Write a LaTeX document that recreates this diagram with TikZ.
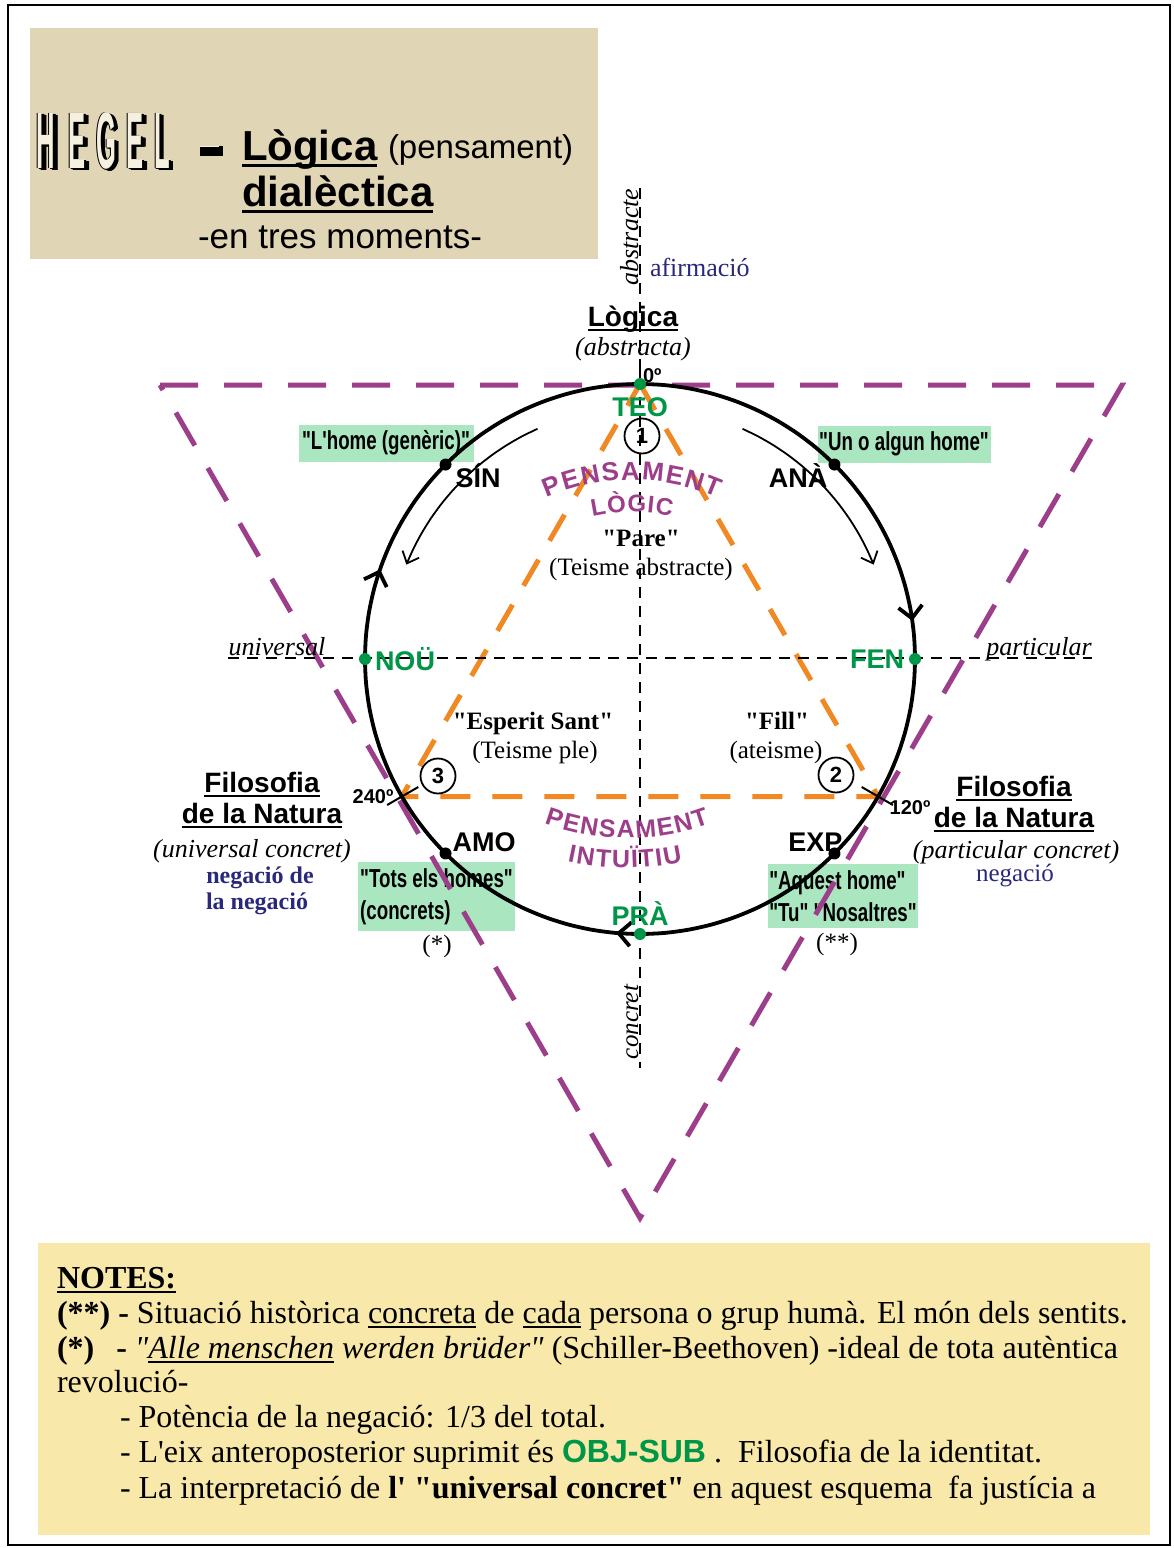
\documentclass[tikz,border=0pt]{standalone}
\usepackage{fontspec}
\setmainfont{Liberation Serif}
\setsansfont{Liberation Sans}
\newfontfamily\txtserif{Liberation Serif}
\newfontfamily\etiqfont[FakeStretch=0.72]{Liberation Sans}
\usepackage{tikz}
\usetikzlibrary{calc,positioning}
\usetikzlibrary{arrows.meta}
\usetikzlibrary{decorations.markings}

\definecolor{titolfons}{RGB}{224,213,180}
\definecolor{titolfront}{RGB}{246,240,224}
\definecolor{notesfons}{RGB}{248,232,170}
\definecolor{verdclar}{RGB}{170,230,192}
\definecolor{verd}{RGB}{0,150,72}
\definecolor{malva}{RGB}{156,62,138}
\definecolor{taronja}{RGB}{240,136,36}
\definecolor{blaufosc}{RGB}{42,40,122}

\newcommand{\fsz}[1]{\fontsize{#1}{#1}\selectfont}
\newcommand{\subr}[1]{\setbox0\hbox{#1}\rlap{\vrule width\wd0 height -.1em depth .17em}\box0\relax}
\newcommand{\estr}[1]{\scalebox{0.32}[1]{#1}}
% lletra amb ombra en relleu
\newcommand{\lletra}[1]{%
  \rlap{\kern-.8pt\raise.35pt\hbox{\estr{#1}}}%
  \rlap{\kern.8pt\lower.35pt\hbox{\estr{#1}}}%
  \rlap{\kern1.6pt\lower.7pt\hbox{\estr{#1}}}%
  \rlap{\kern2.4pt\lower1.05pt\hbox{\estr{#1}}}%
  \rlap{\kern3.2pt\lower1.4pt\hbox{\estr{#1}}}%
  \rlap{\kern4pt\lower1.75pt\hbox{\estr{#1}}}%
  \rlap{\kern4.8pt\lower2.1pt\hbox{\estr{#1}}}%
  \textcolor{titolfront}{\estr{#1}}}

\begin{document}
\begin{tikzpicture}[x=1pt,y=-1pt,
  every node/.style={inner sep=0pt,outer sep=0pt},
  eix/.style={line width=1.6pt,dash pattern=on 11pt off 8pt},
  trimalva/.style={malva,line width=5pt,dash pattern=on 38pt off 26pt},
  tritaronja/.style={taronja,line width=5pt,dash pattern=on 30pt off 22pt},
  cercle/.style={line width=3.8pt},
  fletxa/.style={line width=1.8pt,-{Straight Barb[length=10pt,width=18pt]}},
  punt/.style={circle,fill=black,minimum size=12pt},
  puntverd/.style={circle,fill=verd,minimum size=12pt},
  moment/.style={font=\sffamily\bfseries\fsz{27}},
  momentverd/.style={font=\sffamily\bfseries\fsz{27},text=verd},
  caixa/.style={fill=verdclar,font=\etiqfont\bfseries\fontsize{26}{32}\selectfont},
  num/.style={circle,draw,line width=1.8pt,minimum size=35pt,font=\sffamily\bfseries\fsz{22}},
  graus/.style={font=\sffamily\bfseries\fsz{20}},
  filo/.style={font=\sffamily\bfseries\fsz{28},anchor=base},
  cursiva/.style={font=\itshape\fsz{26},anchor=base},
  nota/.style={font=\txtserif\fsz{32},anchor=base west},
  persona/.style={font=\txtserif\bfseries\fsz{25},anchor=base},
  teisme/.style={font=\fsz{25},anchor=base},
  pens/.style={font=\sffamily\bfseries\fsz{#1},text=malva,anchor=base}]

\fill[white] (0,0) rectangle (1174,1548);
\useasboundingbox (0,0) rectangle (1174,1548);
\draw[line width=1.6pt] (8,5) rectangle (1170,1545);

% capcalera
\fill[titolfons] (30,28) rectangle (598,259);
\foreach \ltr/\xx in {H/44,E/75,G/104,E/133,L/160}
  \node[font=\sffamily\bfseries\fsz{80}] (heg\xx) at (\xx+2,142) {\lletra{\ltr}};
\fill[black] (200,146) rectangle (223,156);
\draw[titolfront,line width=1.2pt] (200,146.5) -- (219,146.5);
\node[font=\sffamily\bfseries\fsz{42},anchor=base west] (tlogica) at (242,160) {\subr{Lògica}};
\node[font=\sffamily\fsz{33},anchor=base west] (tpens) at (388,158) {(pensament)};
\node[font=\sffamily\bfseries\fsz{42},anchor=base west] (tdial) at (242,206) {\subr{dialèctica}};
\node[font=\sffamily\fsz{35},anchor=base] (tmom) at (340,248) {-en tres moments-};

% notes
\fill[notesfons] (38,1243) rectangle (1150,1535);
\node[nota] (nt0) at (57,1288) {\bfseries\subr{NOTES:}};
\node[nota] (nt1) at (57,1323) {\textbf{(**) -} Situació històrica \subr{concreta} de \subr{cada} persona o grup humà. El món dels sentits.};
\node[nota] (nt2) at (57,1358) {\textbf{(*)}\hspace{22pt}\textbf{-} \textit{"\subr{Alle menschen} werden brüder"} (Schiller-Beethoven) -ideal de tota autèntica};
\node[nota] (nt3) at (57,1392) {revolució-};
\node[nota] (nt4) at (120,1427) {- Potència de la negació: 1/3 del total.};
\node[nota] (nt5) at (120,1462) {- L'eix anteroposterior suprimit és {\sffamily\bfseries\color{verd}OBJ-SUB} .\ \ Filosofia de la identitat.};
\node[nota] (nt6) at (120,1498) {- La interpretació de \textbf{l' "universal concret"} en aquest esquema\ \ fa justícia a};

% esquema
\coordinate (C) at (640,659);
\coordinate (ta) at (160,385);
\coordinate (tb) at (1122,385);
\coordinate (tc) at (640,1218);
\coordinate (oa) at ($(C)+(-90:275)$);
\coordinate (ob) at ($(C)+(30:275)$);
\coordinate (oc) at ($(C)+(150:275)$);

\node[caixa,minimum width=175pt,minimum height=37pt] (lhome) at (386,443) {"L'home (genèric)"};
\node[caixa,minimum width=173pt,minimum height=37pt] (unhome) at (904,444) {"Un o algun home"};
\node[caixa,minimum width=157pt,minimum height=69pt,align=left] (tots) at (436.5,896.5) {"Tots els homes"\\(concrets)};
\node[caixa,minimum width=150pt,minimum height=64pt,align=left] (aquest) at (843,896) {"Aquest home"\\"Tu" "Nosaltres"};

\draw[trimalva] (ta) -- (tb) -- (tc) -- cycle;
\draw[tritaronja] (oa) -- (ob) -- (oc) -- cycle;

\draw[eix] (640,188) -- (640,1068);
\draw[eix] (228,658) -- (1092,658);

\draw[fletxa] plot[smooth,domain=0:44,samples=12] ({640+252*sin(336-\x)},{659-252*cos(336-\x)});
\draw[fletxa] plot[smooth,domain=0:44,samples=12] ({640+252*sin(24+\x)},{659-252*cos(24+\x)});

\draw[cercle,postaction={decorate},decoration={markings,
    mark=at position 0.214 with {\arrow{Straight Barb[length=12pt,width=24pt]}},
    mark=at position 0.5 with {\arrow{Straight Barb[length=12pt,width=24pt]}},
    mark=at position 0.789 with {\arrow{Straight Barb[length=12pt,width=24pt]}}}]
  plot[smooth cycle,domain=0:355,samples=72] ({640+275*sin(\x)},{659-275*cos(\x)});

\draw[line width=2pt] (oa) -- ($(C)+(-90:293)$);
\draw[line width=2pt] ($(C)+(30:256)$) -- ($(C)+(30:292)$);
\draw[line width=2pt] ($(C)+(150:256)$) -- ($(C)+(150:292)$);

\node[puntverd] (teo) at ($(C)+(-90:275)$) {};
\node[puntverd] (fen) at ($(C)+(0:275)$) {};
\node[puntverd] (pra) at ($(C)+(90:275)$) {};
\node[puntverd] (nou) at ($(C)+(180:275)$) {};
\node[punt] (sin) at ($(C)+(225:275)$) {};
\node[punt] (ana) at ($(C)+(-45:275)$) {};
\node[punt] (exp) at ($(C)+(45:275)$) {};
\node[punt] (amo) at ($(C)+(135:275)$) {};

\node[momentverd] (teolab) at (640,407) {TEO};
\node[momentverd,anchor=east] (fenlab) at ($(fen)+(-11,0)$) {FEN};
\node[momentverd] (pralab) at (640,914) {PRÀ};
\node[momentverd,anchor=west] (noulab) at ($(nou)+(10,0)$) {NOÜ};
\node[moment,anchor=west] (sinlab) at ($(sin)+(10,11)$) {SÍN};
\node[moment,anchor=east] (analab) at ($(ana)+(-7,11)$) {ANÀ};
\node[moment,anchor=east] (explab) at ($(exp)+(8,-11)$) {EXP};
\node[moment,anchor=west] (amolab) at ($(amo)+(7,-11)$) {AMO};

\node[num] (n1) at (642,436) {1};
\node[num] (n2) at (836,775) {2};
\node[num] (n3) at (438,776) {3};

\node[graus,anchor=base west] (g0) at (643,382) {0º};
\node[graus] (g240) at (373,797) {240º};
\node[graus] (g120) at (910,808) {120º};

% lletres en arc
\foreach \ltr/\ang [count=\i] in {P/-21.3,E/-16.2,N/-10.9,S/-5.66,A/-0.38,M/5.47,E/11.14,N/16.41,T/21.5}
  \node[pens=26,rotate=-\ang] (pl\i) at ({632+213*sin(\ang)},{693-213*cos(\ang)}) {\ltr};
\foreach \ltr/\ang [count=\i] in {L/-10.3,Ò/-4.74,G/1.48,I/5.79,C/9.9}
  \node[pens=24,rotate=-\ang] (lg\i) at ({632+181*sin(\ang)},{693-181*cos(\ang)}) {\ltr};
\foreach \ltr/\ang [count=\i] in {P/198.1,E/193.78,N/189.29,S/184.81,A/180.33,M/175.35,E/170.54,N/166.05,T/161.73}
  \node[pens=25,rotate=180-\ang] (pi\i) at ({627+241*sin(\ang)},{597-241*cos(\ang)}) {\ltr};
\foreach \ltr/\ang [count=\i] in {I/191.53,N/188.57,T/184.73,U/180.89,Ï/177.93,T/175.27,I/172.6,U/169.64}
  \node[pens=25,rotate=180-\ang] (in\i) at ({625+271*sin(\ang)},{597-271*cos(\ang)}) {\ltr};

\node[persona] (pare) at (641,546) {"Pare"};
\node[teisme] (tabs) at (641,575) {(Teisme abstracte)};
\node[persona] (esant) at (533,729) {"Esperit Sant"};
\node[teisme] (tple) at (535,758) {(Teisme ple)};
\node[persona] (fill) at (777,729) {"Fill"};
\node[teisme] (tate) at (776,758) {(ateisme)};

% rotols exteriors
\node[font=\itshape\fsz{26},anchor=base,rotate=90] (abst) at (638,237) {abstracte};
\node[font=\itshape\fsz{25},anchor=base,rotate=90] (conc) at (638,1022) {concret};
\node[font=\fsz{26},text=blaufosc,anchor=base west] (afirm) at (650,276) {afirmació};
\node[filo] (logica) at (633,326) {\subr{Lògica}};
\node[cursiva] (abstracta) at (633,355) {(abstracta)};
\node[cursiva] (univ) at (277,655) {universal};
\node[cursiva] (partic) at (1039,655) {particular};

\node[filo] (fil1) at (262,792) {\subr{Filosofia}};
\node[filo] (nat1) at (262,823) {\subr{de la Natura}};
\node[cursiva] (uc) at (252,857) {(universal concret)};
\node[font=\bfseries\fsz{24},text=blaufosc,anchor=base] (neg1) at (260,883) {negació de};
\node[font=\bfseries\fsz{24},text=blaufosc,anchor=base] (neg2) at (257,909) {la negació};
\node[filo] (fil2) at (1014,796) {\subr{Filosofia}};
\node[filo] (nat2) at (1014,827) {\subr{de la Natura}};
\node[cursiva] (pc) at (1016,858) {(particular concret)};
\node[font=\fsz{25},text=blaufosc,anchor=base] (neg3) at (1015,881) {negació};

\node[font=\fsz{25},anchor=base] (ast1) at (437,952) {(*)};
\node[font=\fsz{25},anchor=base] (ast2) at (837,950) {(**)};
\end{tikzpicture}
\end{document}
